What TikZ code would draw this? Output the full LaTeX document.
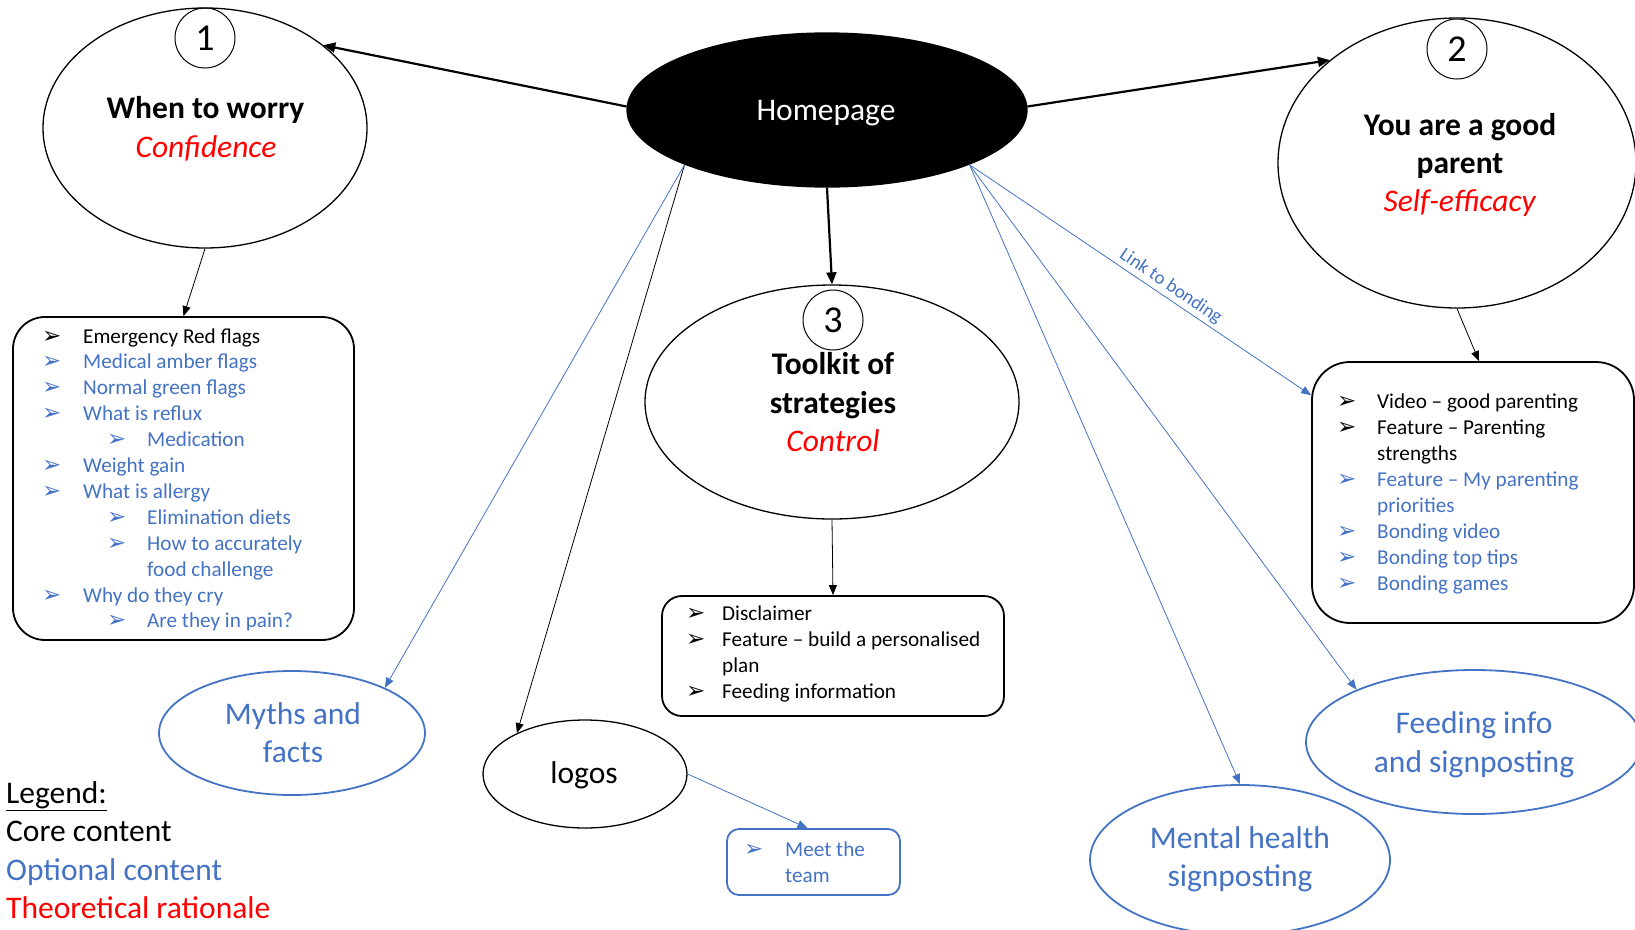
\documentclass[tikz,border=0pt]{standalone}
\usepackage{fontspec}
\setmainfont{Carlito}
\newfontfamily\dingfont{DejaVu Sans}
\usetikzlibrary{shapes.geometric,arrows.meta,calc}
\definecolor{optblue}{HTML}{4472C4}
\definecolor{theored}{HTML}{FF0000}
\newcommand\arrowbullet{{\dingfont\fontsize{23}{23}\selectfont ➢}}

\begin{document}
\begin{tikzpicture}[x=1pt,y=-1pt,
  bigtext/.style={font=\fontsize{31.5}{38}\selectfont, anchor=base, inner sep=0pt},
  legendtext/.style={font=\fontsize{31.5}{38}\selectfont, anchor=base west, inner sep=0pt},
  listtext/.style={font=\fontsize{21.2}{25.9}\selectfont, anchor=base west, inner sep=0pt},
  bulletmark/.style={anchor=base west, inner sep=0pt},
  bubble/.style={draw, ellipse, line width=1.3pt, inner sep=0pt},
  optbubble/.style={draw=optblue, ellipse, line width=1.8pt, inner sep=0pt},
  numring/.style={draw, circle, line width=1pt, minimum size=60pt, inner sep=0pt,
                  font=\fontsize{38}{38}\selectfont},
  listbox/.style={draw, line width=1.8pt, inner sep=0pt},
  mainarrow/.style={line width=2.2pt, -{Triangle[length=12pt,width=10pt]}},
  thinarrow/.style={line width=0.8pt, -{Triangle[length=10pt,width=8pt]}},
  optarrow/.style={thinarrow, color=optblue},
  linklabel/.style={font=\fontsize{19}{19}\selectfont, text=optblue, inner sep=3pt}
]
\useasboundingbox (0,0) rectangle (1635,929);

% ---- central hub ----
\node[bubble, fill=black, minimum width=400pt, minimum height=154pt] (home) at (827,110) {};
\node[bigtext, text=white] (homet) at (826,120) {Homepage};

% ---- 1: when to worry ----
\node[bubble, minimum width=324pt, minimum height=240pt] (w1) at (205,128) {};
\node[numring] (n1) at (205,38) {1};
\node[bigtext] (w1a) at (205.5,118) {\textbf{When to worry}};
\node[bigtext, text=theored] (w1b) at (206,157) {\textit{Confidence}};

% ---- 2: good parent ----
\node[bubble, minimum width=358pt, minimum height=290pt] (w2) at (1457,163) {};
\node[numring] (n2) at (1457,49) {2};
\node[bigtext] (w2a) at (1460,135) {\textbf{You are a good}};
\node[bigtext] (w2b) at (1460,173) {\textbf{parent}};
\node[bigtext, text=theored] (w2c) at (1460,211) {\textit{Self-efficacy}};

% ---- 3: toolkit ----
\node[bubble, minimum width=374pt, minimum height=234pt] (tk) at (832,402) {};
\node[numring] (n3) at (833,320) {3};
\node[bigtext] (tka) at (833,374) {\textbf{Toolkit of}};
\node[bigtext] (tkb) at (833,413) {\textbf{strategies}};
\node[bigtext, text=theored] (tkc) at (833,451) {\textit{Control}};

% ---- outer bubbles ----
\node[optbubble, minimum width=266pt, minimum height=124pt] (myths) at (292,733) {};
\node[bigtext, text=optblue] (mythsa) at (293,724) {Myths and};
\node[bigtext, text=optblue] (mythsb) at (293,762) {facts};

\node[bubble, minimum width=204pt, minimum height=108pt] (logos) at (585,774) {};
\node[bigtext] (logost) at (584,783) {logos};

\node[optbubble, minimum width=336pt, minimum height=144pt] (feed) at (1474,742) {};
\node[bigtext, text=optblue] (feeda) at (1474,733) {Feeding info};
\node[bigtext, text=optblue] (feedb) at (1474,772) {and signposting};

\node[optbubble, minimum width=300pt, minimum height=150pt] (mental) at (1240,860) {};
\node[bigtext, text=optblue] (mentala) at (1240,848) {Mental health};
\node[bigtext, text=optblue] (mentalb) at (1240,886) {signposting};

% ---- content boxes ----
\node[listbox, rounded corners=32pt, minimum width=341pt, minimum height=323pt] (box1) at (183.5,478.5) {};
\node[listbox, rounded corners=38pt, minimum width=322pt, minimum height=261pt] (box2) at (1473,492.5) {};
\node[listbox, rounded corners=20pt, minimum width=342pt, minimum height=120pt] (box3) at (833,656) {};
\node[listbox, draw=optblue, rounded corners=12pt, minimum width=173pt, minimum height=66pt] (meet) at (813.5,862) {};

% list of box 1
\foreach \bx/\by/\bc [count=\i] in {42/343/black, 42/368.9/optblue, 42/394.8/optblue,
    42/420.7/optblue, 107/446.6/optblue, 42/472.5/optblue, 42/498.4/optblue,
    107/524.3/optblue, 107/550.2/optblue, 42/602/optblue, 107/627.9/optblue}
  \node[bulletmark, text=\bc] (b1-\i) at (\bx,\by) {\arrowbullet};
\foreach \tx/\ty/\tc/\tt [count=\i] in {83/343/black/Emergency Red flags,
    83/368.9/optblue/Medical amber flags, 83/394.8/optblue/Normal green flags,
    83/420.7/optblue/What is reflux, 147/446.6/optblue/Medication,
    83/472.5/optblue/Weight gain, 83/498.4/optblue/What is allergy,
    147/524.3/optblue/Elimination diets, 147/550.2/optblue/How to accurately,
    147/576.1/optblue/food challenge, 83/602/optblue/Why do they cry,
    147/627.9/optblue/Are they in pain?}
  \node[listtext, text=\tc] (t1-\i) at (\tx,\ty) {\tt};

% list of box 2
\foreach \by/\bc [count=\i] in {408/black, 434/black, 486/optblue, 538/optblue, 564/optblue, 590/optblue}
  \node[bulletmark, text=\bc] (b2-\i) at (1337,\by) {\arrowbullet};
\foreach \ty/\tc/\tt [count=\i] in {408/black/Video – good parenting,
    434/black/Feature – Parenting, 460/black/strengths,
    486/optblue/Feature – My parenting, 512/optblue/priorities,
    538/optblue/Bonding video, 564/optblue/Bonding top tips, 590/optblue/Bonding games}
  \node[listtext, text=\tc] (t2-\i) at (1377,\ty) {\tt};

% list of box 3
\foreach \by [count=\i] in {620, 646, 698}
  \node[bulletmark] (b3-\i) at (686,\by) {\arrowbullet};
\foreach \ty/\tt [count=\i] in {620/Disclaimer, 646/Feature – build a personalised,
    672/plan, 698/Feeding information}
  \node[listtext] (t3-\i) at (722,\ty) {\tt};

% team box
\node[bulletmark, text=optblue] (b4-1) at (744,856) {\arrowbullet};
\node[listtext, text=optblue] (t4-1) at (785,856) {Meet the};
\node[listtext, text=optblue] (t4-2) at (785,882) {team};

% ---- connectors ----
\draw[mainarrow] (home.179) -- (w1.35);
\draw[mainarrow] (home.1) -- (w2.141);
\draw[mainarrow] (home.-90) -- (tk.90);
\draw[thinarrow] (w1.-90) -- (box1.north);
\draw[thinarrow] (w2.-90) -- ([xshift=6pt]box2.north);
\draw[thinarrow] (tk.-90) -- (box3.north);
\draw[thinarrow] (home.201) -- (logos.149);
\draw[optarrow] (home.201) -- (myths.26);
\draw[optarrow] (home.-21) -- (mental.90);
\draw[optarrow] (home.-21) -- (feed.156);
\draw[optarrow] (home.-21) -- (box2.149)
  node[linklabel, sloped, above, pos=0.57] (link) {Link to bonding};
\draw[optarrow] (logos.east) -- ([xshift=-6pt]meet.north);

% ---- legend ----
\node[legendtext] (lg0) at (6,803) {\underline{Legend:}};
\node[legendtext] (lg1) at (6,841.5) {Core content};
\node[legendtext, text=optblue] (lg2) at (6,880) {Optional content};
\node[legendtext, text=theored] (lg3) at (6,918.5) {Theoretical rationale};
\end{tikzpicture}
\end{document}
